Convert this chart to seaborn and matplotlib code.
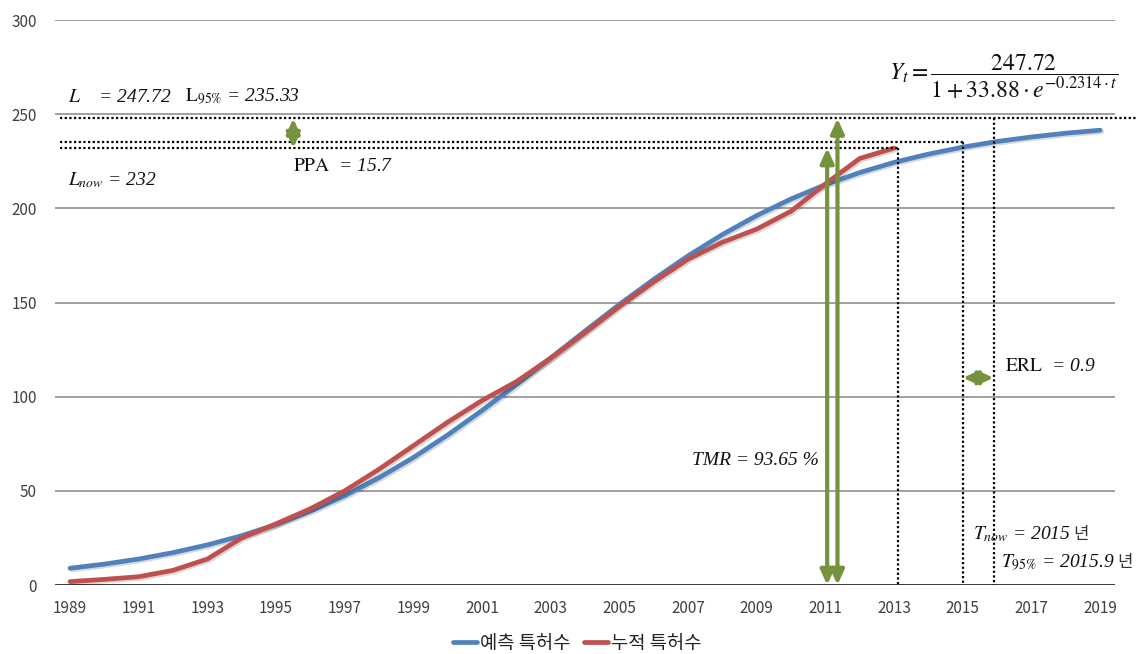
import numpy as np
import pandas as pd
import matplotlib
matplotlib.use("Agg")
import matplotlib.pyplot as plt
import matplotlib.patheffects as pe
from matplotlib.lines import Line2D
import seaborn as sns

# ---- data -------------------------------------------------------------
years_pred = list(range(1989, 2020))
pred_counts = [8.9, 11.1, 13.8, 17.2, 21.3, 26.2, 32.1, 39.2, 47.4, 57.0,
               67.7, 79.7, 92.7, 106.4, 120.6, 134.9, 149.0, 162.3, 174.8, 186.1,
               196.2, 205.0, 212.6, 219.0, 224.4, 228.8, 232.5, 235.5, 237.9, 239.9,
               241.5]
years_cum = list(range(1989, 2014))
cum_counts = [1.8, 3.0, 4.4, 7.8, 13.8, 25.0, 32.5, 40.5, 50.0, 61.5,
              74.0, 86.5, 98.0, 108.0, 120.5, 134.0, 148.0, 161.0, 173.0, 182.0,
              189.0, 198.5, 213.0, 226.5, 232.0]
series_names = ["예측 특허수", "누적 특허수"]
series_colors = ["#4F81BD", "#C0504D"]

L_sat = 247.72      # saturation level L
L_95 = 235.33       # 95 % level
L_now = 232         # current cumulative count
T_now = 2015
T_95 = 2015.9
T_end = 2013.1      # end of observed series
x_tmr = [2011.05, 2011.35]
x_ppa = 1995.5
y_erl = 110

y_ticks = [0, 50, 100, 150, 200, 250, 300]
x_ticks = list(range(1989, 2020, 2))

# ---- styling ----------------------------------------------------------
sns.set_theme(style="white")
plt.rcParams["font.family"] = ["Noto Sans CJK KR", "DejaVu Sans"]
plt.rcParams["mathtext.fontset"] = "stix"
serif = ["Liberation Serif", "DejaVu Serif"]
green = "#76923C"

df = pd.concat([
    pd.DataFrame({"year": years_pred, "count": pred_counts, "series": series_names[0]}),
    pd.DataFrame({"year": years_cum, "count": cum_counts, "series": series_names[1]}),
], ignore_index=True)

fig = plt.figure(figsize=(11.38, 6.54), dpi=100)
ax = fig.add_axes([0.0483, 0.1055, 0.9317, 0.8639])

shadow = [pe.SimpleLineShadow(offset=(1.2, -1.2), alpha=0.15, shadow_color="black"), pe.Normal()]
sns.lineplot(data=df, x="year", y="count", hue="series", hue_order=series_names,
             palette=dict(zip(series_names, series_colors)), lw=3.4, ax=ax,
             legend=False, zorder=3)
for ln in ax.lines:
    ln.set_solid_capstyle("round")
    ln.set_path_effects(shadow)

ax.set_xlim(1988.56, 2019.44)
ax.set_ylim(0, 300)
ax.set_xticks(x_ticks)
ax.set_yticks(y_ticks)
ax.set_xlabel("")
ax.set_ylabel("")
for s in ax.spines.values():
    s.set_visible(False)
ax.grid(False)
for yv in y_ticks[1:]:
    ax.axhline(yv, color="#868686", lw=1.1, zorder=1)
ax.axhline(0, color="black", lw=1.8, zorder=2)
ax.tick_params(axis="both", length=0, labelsize=11, colors="#404040")
ax.tick_params(axis="y", pad=13)
ax.tick_params(axis="x", pad=11)

# ---- dotted reference lines -------------------------------------------
dot = dict(color="black", lw=1.6, ls=(0, (1, 1.1)), zorder=4)
x0 = 1988.72
ax.plot([x0, 2020.1], [L_sat, L_sat], clip_on=False, **dot)
ax.plot([x0, T_now], [L_95, L_95], **dot)
ax.plot([x0, T_end], [L_now, L_now], **dot)
ax.plot([T_end, T_end], [L_now, 0], **dot)
ax.plot([T_now, T_now], [L_95, 0], **dot)
ax.plot([T_95, T_95], [L_sat, 0], **dot)

# ---- green arrows -------------------------------------------------------
arrow = dict(arrowstyle="<|-|>,head_length=0.55,head_width=0.25", color=green,
             lw=3, mutation_scale=16, shrinkA=0, shrinkB=0)
ax.annotate("", xy=(x_ppa, L_sat), xytext=(x_ppa, L_now), arrowprops=arrow, zorder=6)
ax.annotate("", xy=(x_tmr[0], L_now), xytext=(x_tmr[0], 0), arrowprops=arrow, zorder=6)
ax.annotate("", xy=(x_tmr[1], L_sat), xytext=(x_tmr[1], 0), arrowprops=arrow, zorder=6)
ax.annotate("", xy=(T_now, y_erl), xytext=(T_95, y_erl), arrowprops=arrow, zorder=6)

# ---- text annotations ---------------------------------------------------
tk = dict(fontsize=14, style="italic", family=serif, va="center", color="#111111", zorder=7)
ax.text(1988.94, 259, r"$L$    = 247.72", ha="left", **tk)
ax.text(1992.35, 259, r"$\mathrm{L}_{95\%}$ = 235.33", ha="left", **tk)
ax.text(1988.94, 215, r"$L_{now}$ = 232", ha="left", **tk)
ax.text(1995.5, 222, r"$\mathrm{PPA}$  = 15.7", ha="left", **tk)
ax.text(2010.8, 66, "TMR = 93.65 %", ha="right", **tk)
ax.text(2016.24, 116, r"$\mathrm{ERL}$  = 0.9", ha="left", **tk)
t_now = ax.text(2015.3, 27, r"$T_{now}$ = 2015", ha="left", **tk)
t_95 = ax.text(2016.1, 12, r"$T_{\mathrm{95\%}}$ = 2015.9", ha="left", **tk)
# year unit after each time label
for t in (t_now, t_95):
    ax.annotate("년", xy=(1, 0.5), xycoords=t, xytext=(2, 0), textcoords="offset points",
                ha="left", va="center", fontsize=12, family="Noto Sans CJK KR",
                color="#333333", zorder=7)
ax.text(2016.2, 270, r"$Y_t = \dfrac{247.72}{1 + 33.88\cdot e^{-0.2314\cdot t}}$",
        ha="center", va="center", fontsize=17, color="#111111", zorder=7)

# ---- legend -------------------------------------------------------------
handles = [Line2D([], [], color=c, lw=3.4) for c in series_colors]
fig.legend(handles, series_names, loc="center", bbox_to_anchor=(0.507, 0.016),
           ncol=2, frameon=False, fontsize=13.5, handlelength=1.3,
           handletextpad=0.15, columnspacing=0.7, labelcolor="#222222")

fig.savefig("out.png", dpi=100)
